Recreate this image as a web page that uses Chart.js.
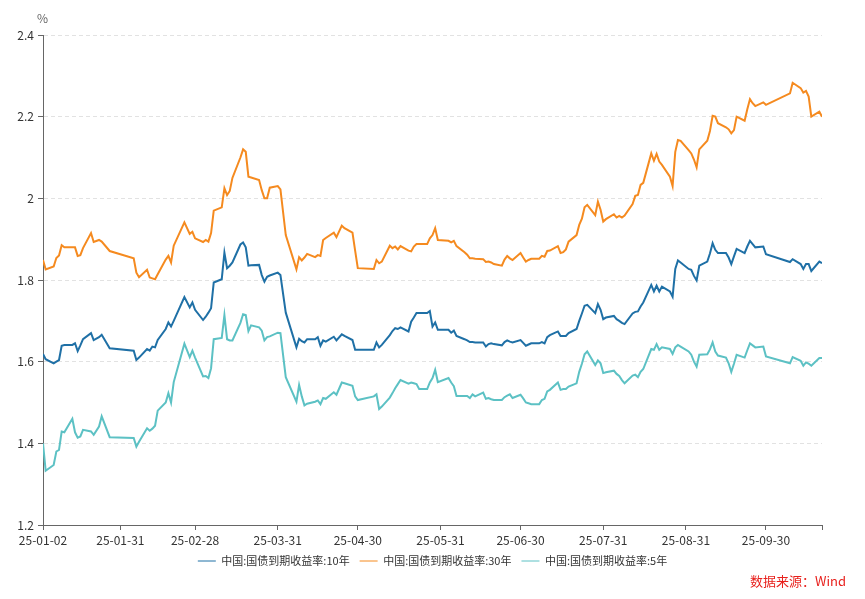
<!DOCTYPE html>
<html>
<head>
<meta charset="utf-8">
<script src="https://cdn.jsdelivr.net/npm/chart.js@4.4.1/dist/chart.umd.min.js"></script>
<style>
  body { margin: 0; background: #fff; }
  #wrap { position: relative; width: 865px; height: 599px; font-family: "Noto Sans CJK SC", "Noto Sans", sans-serif; }
  #unit { position: absolute; left: 37px; top: 9px; font-size: 12px; color: #666; }
  #source { position: absolute; left: 750px; top: 571px; font-size: 13px; color: #e8211d; }
</style>
</head>
<body>
<div id="wrap">
  <canvas id="yieldChart"></canvas>
  <div id="unit">%</div>
  <div id="source">数据来源：Wind</div>
</div>
<script>
// trading days of 2025 (MM-DD)
var dates = [
  '01-02','01-03','01-06','01-07','01-08','01-09','01-10','01-13','01-14','01-15','01-16','01-17','01-20','01-21','01-23','01-24','01-27',
  '02-05','02-06','02-07','02-10','02-11','02-12','02-13','02-14','02-17','02-18','02-19','02-20','02-24','02-26','02-27','02-28',
  '03-03','03-04','03-05','03-06','03-07','03-10','03-11','03-12','03-13','03-14','03-17','03-18','03-19','03-20','03-21','03-24','03-25','03-26','03-27','03-28','03-31',
  '04-01','04-03','04-07','04-08','04-09','04-10','04-11','04-14','04-15','04-16','04-17','04-18','04-21','04-22','04-24','04-25','04-28','04-29','04-30',
  '05-06','05-07','05-08','05-09','05-12','05-13','05-14','05-15','05-16','05-19','05-20','05-21','05-22','05-23','05-26','05-27','05-28','05-29','05-30',
  '06-03','06-04','06-05','06-06','06-09','06-10','06-11','06-12','06-13','06-16','06-17','06-18','06-19','06-20','06-23','06-24','06-25','06-26','06-27','06-30',
  '07-01','07-02','07-03','07-04','07-07','07-08','07-09','07-10','07-11','07-14','07-15','07-16','07-17','07-18','07-21','07-22','07-23','07-24','07-25','07-28','07-29','07-30','07-31',
  '08-01','08-04','08-05','08-06','08-07','08-08','08-11','08-12','08-13','08-14','08-15','08-18','08-19','08-20','08-21','08-22','08-25','08-26','08-27','08-28','08-29',
  '09-01','09-02','09-03','09-04','09-05','09-08','09-09','09-10','09-11','09-12','09-15','09-16','09-17','09-18','09-19','09-22','09-23','09-24','09-25','09-26','09-29','09-30',
  '10-09','10-10','10-13','10-14','10-15','10-16','10-17','10-20','10-21'
];

var cn10y = [
  1.619,1.606,1.596,1.600,1.604,1.639,1.641,1.641,1.645,1.626,1.640,1.655,1.670,1.653,1.660,1.666,1.633,
  1.627,1.604,1.610,1.631,1.627,1.637,1.635,1.653,1.680,1.696,1.686,1.700,1.758,1.733,1.745,1.727,
  1.702,1.710,1.720,1.731,1.794,1.802,1.867,1.829,1.835,1.843,1.887,1.892,1.880,1.835,1.836,1.837,1.812,1.796,1.808,1.811,1.818,
  1.812,1.720,1.635,1.656,1.650,1.647,1.655,1.655,1.660,1.639,1.652,1.649,1.661,1.652,1.667,1.663,1.653,1.629,1.629,
  1.629,1.647,1.635,1.641,1.665,1.675,1.682,1.680,1.684,1.674,1.698,1.708,1.719,1.719,1.719,1.724,1.686,1.696,1.678,
  1.678,1.671,1.676,1.663,1.655,1.652,1.648,1.648,1.647,1.647,1.637,1.643,1.645,1.643,1.640,1.648,1.652,1.649,1.647,1.653,
  1.646,1.639,1.642,1.645,1.645,1.648,1.645,1.660,1.665,1.674,1.663,1.663,1.663,1.670,1.680,1.700,1.718,1.737,1.739,1.719,1.741,1.727,1.704,
  1.708,1.712,1.704,1.700,1.695,1.692,1.718,1.722,1.723,1.735,1.745,1.788,1.772,1.786,1.772,1.784,1.772,1.759,1.827,1.848,1.843,
  1.827,1.825,1.810,1.799,1.835,1.845,1.865,1.890,1.874,1.866,1.866,1.855,1.839,1.858,1.876,1.866,1.882,1.896,1.888,1.880,1.882,1.863,
  1.844,1.851,1.839,1.827,1.839,1.839,1.822,1.845,1.841
];

var cn30y = [
  1.849,1.826,1.833,1.854,1.860,1.885,1.880,1.880,1.880,1.859,1.861,1.878,1.915,1.893,1.898,1.894,1.871,
  1.853,1.818,1.807,1.825,1.806,1.804,1.802,1.814,1.850,1.859,1.843,1.884,1.941,1.913,1.918,1.902,
  1.893,1.898,1.894,1.915,1.970,1.978,2.025,2.008,2.018,2.050,2.100,2.120,2.114,2.053,2.051,2.045,2.020,2.000,2.000,2.026,2.030,
  2.022,1.910,1.826,1.856,1.848,1.855,1.864,1.856,1.861,1.859,1.898,1.903,1.916,1.905,1.933,1.927,1.916,1.872,1.829,
  1.827,1.849,1.841,1.845,1.884,1.878,1.882,1.875,1.883,1.872,1.870,1.882,1.888,1.888,1.888,1.902,1.910,1.927,1.898,
  1.896,1.892,1.896,1.883,1.868,1.862,1.853,1.853,1.852,1.851,1.844,1.845,1.843,1.839,1.835,1.850,1.859,1.853,1.849,1.866,
  1.855,1.845,1.849,1.852,1.852,1.859,1.857,1.871,1.872,1.883,1.866,1.868,1.875,1.894,1.910,1.935,1.950,1.978,1.984,1.959,1.992,1.972,1.943,
  1.949,1.961,1.953,1.957,1.953,1.958,1.986,2.006,2.008,2.033,2.038,2.110,2.092,2.109,2.090,2.082,2.053,2.030,2.114,2.143,2.141,
  2.118,2.110,2.095,2.076,2.120,2.141,2.165,2.202,2.200,2.184,2.174,2.169,2.159,2.167,2.200,2.190,2.218,2.243,2.233,2.226,2.235,2.229,
  2.257,2.283,2.270,2.259,2.263,2.249,2.200,2.212,2.200
];

var cn5y = [
  1.400,1.333,1.347,1.380,1.384,1.429,1.427,1.460,1.427,1.414,1.417,1.433,1.429,1.421,1.441,1.466,1.415,
  1.413,1.392,1.404,1.437,1.431,1.436,1.443,1.480,1.500,1.523,1.500,1.550,1.644,1.611,1.627,1.610,
  1.564,1.565,1.560,1.584,1.655,1.658,1.714,1.655,1.652,1.652,1.695,1.716,1.714,1.675,1.689,1.684,1.676,1.652,1.660,1.662,1.671,
  1.670,1.562,1.502,1.543,1.515,1.493,1.497,1.502,1.505,1.496,1.511,1.509,1.525,1.519,1.549,1.547,1.541,1.515,1.506,
  1.515,1.520,1.484,1.490,1.512,1.523,1.535,1.545,1.555,1.546,1.549,1.547,1.545,1.533,1.533,1.549,1.560,1.580,1.550,
  1.560,1.549,1.540,1.516,1.516,1.516,1.511,1.520,1.515,1.524,1.509,1.511,1.508,1.506,1.506,1.513,1.517,1.520,1.511,1.519,
  1.510,1.500,1.498,1.496,1.496,1.506,1.509,1.527,1.531,1.549,1.531,1.533,1.533,1.539,1.547,1.575,1.595,1.618,1.625,1.592,1.603,1.596,1.572,
  1.574,1.578,1.570,1.565,1.555,1.547,1.566,1.568,1.562,1.575,1.582,1.631,1.629,1.643,1.629,1.635,1.631,1.619,1.635,1.641,1.637,
  1.625,1.617,1.600,1.588,1.617,1.618,1.630,1.647,1.625,1.615,1.610,1.596,1.575,1.595,1.617,1.610,1.628,1.645,1.640,1.635,1.637,1.613,
  1.596,1.611,1.602,1.590,1.598,1.595,1.590,1.609,1.609
];

var tickDates = ['01-02','01-31','02-28','03-31','04-30','05-31','06-30','07-31','08-31','09-30'];
var tickLabels = ['25-01-02','25-01-31','25-02-28','25-03-31','25-04-30','25-05-31','25-06-30','25-07-31','25-08-31','25-09-30'];

// days since 2025-01-02
function dayOf(md) {
    var p = md.split('-');
    return (Date.UTC(2025, +p[0] - 1, +p[1]) - Date.UTC(2025, 0, 2)) / 86400000;
}

function toPoints(values) {
    return values.map(function(v, i) {
        return { x: dayOf(dates[i]), y: v };
    });
}

var lastDay = dayOf(dates[dates.length - 1]);
var tickDays = tickDates.map(dayOf).concat([lastDay]);

Chart.defaults.font.family = '"Noto Sans CJK SC", "Noto Sans", sans-serif';
Chart.defaults.color = '#333';

var ctx = document.getElementById('yieldChart').getContext('2d');
var yieldChart = new Chart(ctx, {
    type: 'line',
    data: {
        datasets: [
            { label: '中国:国债到期收益率:10年', data: toPoints(cn10y), borderColor: '#1f70a6', backgroundColor: '#1f70a6' },
            { label: '中国:国债到期收益率:30年', data: toPoints(cn30y), borderColor: '#f58a1f', backgroundColor: '#f58a1f' },
            { label: '中国:国债到期收益率:5年', data: toPoints(cn5y), borderColor: '#5cc1c4', backgroundColor: '#5cc1c4' }
        ]
    },
    options: {
        responsive: true,
        maintainAspectRatio: false,
        animation: false,
        elements: {
            line: { borderWidth: 2, tension: 0 },
            point: { radius: 0, hoverRadius: 0 }
        },
        // half-pixel offsets keep the 2px legend lines on whole pixels
        layout: { padding: { left: 0, right: 0, top: 35, bottom: 22.5 } },
        scales: {
            x: {
                type: 'linear',
                min: 0,
                max: lastDay,
                afterBuildTicks: function(scale) {
                    scale.ticks = tickDays.map(function(d) { return { value: d }; });
                },
                afterFit: function(scale) { scale.height = 20.5; },
                ticks: {
                    autoSkip: false,
                    maxRotation: 0,
                    padding: 3,
                    font: { size: 12 },
                    color: '#333',
                    callback: function(value, index) { return tickLabels[index] || ''; }
                },
                grid: { drawOnChartArea: false, drawTicks: true, tickLength: 5, tickColor: '#666' },
                border: { color: '#666', width: 1 }
            },
            y: {
                min: 1.2,
                max: 2.4,
                afterFit: function(scale) { scale.width = 43; },
                ticks: {
                    stepSize: 0.2,
                    padding: 4,
                    font: { size: 12 },
                    color: '#333',
                    callback: function(value) { return String(Math.round(value * 10) / 10); }
                },
                grid: { color: '#e2e2e2', tickLength: 5, tickColor: '#666' },
                border: { color: '#666', width: 1, dash: [4, 3] }
            },
            // empty right margin so the legend centres on the whole canvas
            spacer: {
                position: 'right',
                afterFit: function(scale) { scale.width = 43; },
                ticks: { display: false },
                grid: { display: false },
                border: { display: false }
            }
        },
        plugins: {
            legend: {
                position: 'bottom',
                labels: {
                    usePointStyle: true,
                    pointStyle: 'line',
                    pointStyleWidth: 18,
                    padding: 10,
                    color: '#333',
                    font: { size: 11 }
                }
            },
            tooltip: { enabled: false }
        }
    }
});
</script>
</body>
</html>
